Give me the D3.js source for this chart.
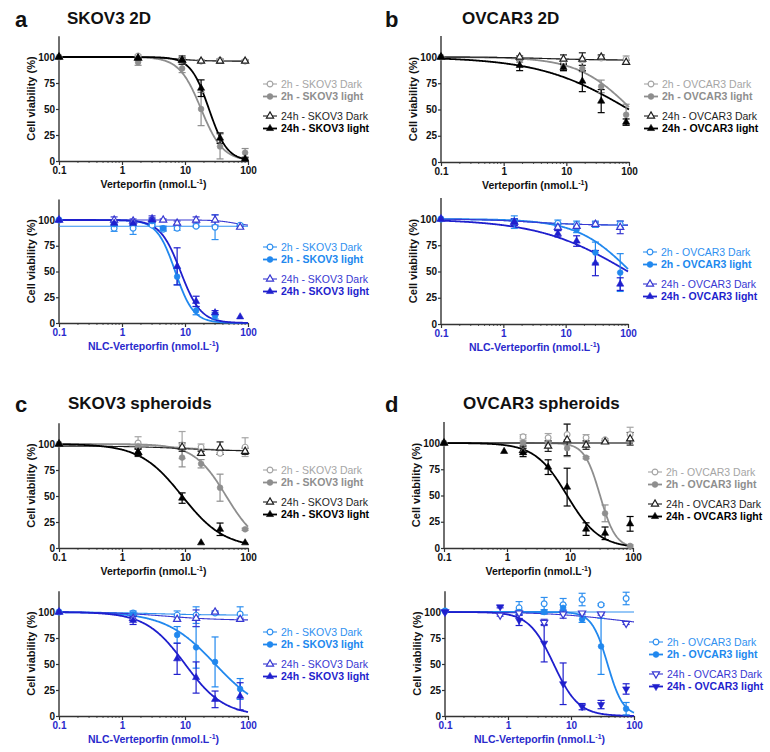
<!DOCTYPE html>
<html><head><meta charset="utf-8">
<script src="https://cdn.jsdelivr.net/npm/d3@7"></script>
<style>body{margin:0;background:#fff} text{font-family:"Liberation Sans",Arial,Helvetica,sans-serif}</style>
</head><body><svg id="c" width="770" height="752"></svg>
<script>
// ---------- tick labels ----------
const xTickValues = [0.1, 1, 10, 100];
const xTickLabels = ["0.1", "1", "10", "100"];
const yTickValues = [0, 25, 50, 75, 100];
const yTickLabels = ["0", "25", "50", "75", "100"];

// ---------- legend labels ----------
const labelsSKOV3 = ["2h - SKOV3 Dark", "2h - SKOV3 light", "24h - SKOV3 Dark", "24h - SKOV3 light"];
const labelsOVCAR3 = ["2h - OVCAR3 Dark", "2h - OVCAR3 light", "24h - OVCAR3 Dark", "24h - OVCAR3 light"];

// ---------- panel a top: SKOV3 2D, Verteporfin ----------
const aT_x = [0.1, 1.8, 9, 18, 36, 90];
const aT_d2 = [100, 101, 97, 96, 97, 96];   const aT_d2e = [0, 1, 2, 1, 1, 1];
const aT_l2 = [100, 95, 89, 50, 14, 8];     const aT_l2e = [0, 3, 4, 16, 12, 4];
const aT_d24 = [100, 99, 97, 96, 96, 96];   const aT_d24e = [0, 1, 4, 1, 2, 1];
const aT_l24 = [100, 99, 97, 70, 22, 2];    const aT_l24e = [0, 1, 2, 8, 5, 1];
const aT_fit = [[100, 96, 6, 2], [100, 0, 18, 2.5], [100, 96, 8, 2], [100, 0, 24, 3]];

// ---------- panel a bottom: SKOV3 2D, NLC-Verteporfin ----------
const aB_x = [0.1, 0.75, 1.5, 3, 4.5, 7.5, 15, 30, 75];
const aB_d2 = [100, 92, 92, 95, 91, 92, 94, 93, 95];     const aB_d2e = [0, 3, 6, 1, 2, 2, 1, 12, 1];
const aB_l2 = [100, 96, 97, 99, 92, 45, 12, 7, null];    const aB_l2e = [0, 2, 2, 2, 2, 8, 4, 3, 0];
const aB_d24 = [100, 100, 99, 101, 100, 97, 100, 100, 93]; const aB_d24e = [0, 3, 2, 3, 1, 2, 3, 5, 1];
const aB_l24 = [100, 97, 97, 100, null, 55, 21, 10, 6];  const aB_l24e = [0, 2, 2, 2, 0, 18, 5, 2, 0];
const aB_fit = [[94, 94, 1, 1], [100, 0, 7, 3], [100, 94, 60, 3], [100, 0, 8.5, 2.7]];

// ---------- panel b top: OVCAR3 2D, Verteporfin ----------
const bT_x = [0.1, 1.8, 9, 18, 36, 90];
const bT_d2 = [100, 99, 96, 97, 99, 98];    const bT_d2e = [0, 1, 2, 2, 2, 3];
const bT_l2 = [100, 97, 91, 89, 72, 45];    const bT_l2e = [0, 2, 4, 3, 6, 10];
const bT_d24 = [100, 100, 98, 98, 100, 95]; const bT_d24e = [0, 1, 4, 6, 2, 2];
const bT_l24 = [100, 92, 90, 77, 58, 38];   const bT_l24e = [0, 5, 3, 10, 11, 3];
const bT_fit = [[100, 97, 5, 1], [100, 0, 110, 1], [100, 97, 5, 1], [100, 0, 100, 0.6]];

// ---------- panel b bottom: OVCAR3 2D, NLC-Verteporfin ----------
const bB_x = [0.1, 1.5, 7.5, 15, 30, 75];
const bB_d2 = [100, 97, 96, 95, 95, 95];    const bB_d2e = [0, 6, 3, 3, 3, 3];
const bB_l2 = [100, 98, 93, 90, 68, 49];    const bB_l2e = [0, 2, 3, 3, 10, 18];
const bB_d24 = [100, 97, 92, 93, 95, 92];   const bB_d24e = [0, 3, 3, 2, 2, 6];
const bB_l24 = [100, 97, 86, 79, 58, 38];   const bB_l24e = [0, 3, 3, 5, 12, 6];
const bB_fit = [[100, 94, 3, 1], [100, 0, 110, 1], [100, 94, 3, 1], [100, 0, 100, 0.6]];

// ---------- panel c top: SKOV3 spheroids, Verteporfin ----------
const cT_x = [0.1, 1.8, 9, 18, 36, 90];
const cT_d2 = [100, 101, 99, 97, 91, 97];   const cT_d2e = [0, 6, 13, 3, 1, 9];
const cT_l2 = [100, 98, 87, 81, 58, 18];    const cT_l2e = [0, 2, 9, 4, 13, 1];
const cT_d24 = [100, 92, 97, 91, 96, 93];   const cT_d24e = [0, 4, 4, 2, 6, 3];
const cT_l24 = [100, 92, 48, 5, 18, 5];     const cT_l24e = [0, 3, 5, 0, 6, 0];
const cT_fit = [[100, 93, 10, 1], [100, 0, 45, 1.7], [98, 93, 10, 1], [100, 0, 9, 1.3]];

// ---------- panel c bottom: SKOV3 spheroids, NLC-Verteporfin ----------
const cB_x = [0.1, 1.5, 7.5, 15, 30, 75];
const cB_d2 = [100, 99, 97, 97, 99, 98];    const cB_d2e = [0, 2, 4, 8, 1, 7];
const cB_l2 = [100, 98, 78, 66, 52, 26];    const cB_l2e = [0, 2, 8, 20, 24, 10];
const cB_d24 = [100, 94, 93, 94, 100, 93];  const cB_d24e = [0, 2, 2, 8, 1, 1];
const cB_l24 = [100, 92, 55, 37, 16, 19];   const cB_l24e = [0, 4, 15, 15, 8, 13];
const cB_fit = [[100, 97, 3, 1], [100, 0, 30, 1.1], [100, 92, 5, 1], [100, 0, 10, 1.4]];

// ---------- panel d top: OVCAR3 spheroids, Verteporfin ----------
const dT_x = [0.1, 0.9, 1.8, 4.5, 9, 18, 36, 90];
const dT_d2 = [100, null, 106, 105, 108, 105, 103, 108]; const dT_d2e = [0, 0, 2, 4, 10, 3, 1, 7];
const dT_l2 = [100, null, 100, 100, 95, 86, 33, 2];      const dT_l2e = [0, 0, 2, 2, 8, 1, 8, 1];
const dT_d24 = [100, null, 93, 97, 103, 98, 101, 104];   const dT_d24e = [0, 0, 4, 5, 15, 4, 1, 6];
const dT_l24 = [100, 92, 91, 77, 58, 18, 14, 23];        const dT_l24e = [0, 0, 4, 7, 18, 6, 6, 7];
const dT_fit = [[100, 100, 1, 1], [100, 0, 30, 3.5], [100, 100, 1, 1], [100, 0, 9, 1.7]];

// ---------- panel d bottom: OVCAR3 spheroids, NLC-Verteporfin ----------
const dB_x = [0.1, 0.75, 1.5, 3.75, 7.5, 15, 30, 75];
const dB_d2 = [101, null, 104, 108, 107, 112, 107, 113]; const dB_d2e = [0, 0, 6, 6, 6, 6, 1, 6];
const dB_l2 = [101, null, 100, 100, 104, 93, 67, 7];     const dB_l2e = [0, 0, 2, 2, 3, 3, 27, 6];
const dB_d24 = [100, 97, 99, 90, 98, 99, 98, 89];        const dB_d24e = [0, 1, 2, 3, 4, 1, 1, 1];
const dB_l24 = [100, 105, 92, 70, 31, 9, 11, 26];        const dB_l24e = [0, 1, 5, 18, 20, 3, 4, 5];
const dB_fit = [[100, 100, 1, 1], [100, 0, 38, 3.5], [100, 85, 50, 0.8], [100, 0, 5.3, 2.2]];

// ---------- styles ----------
const grayColors = ["#a5a5a5", "#8e8e8e", "#1e1e1e", "#000000"];
const blueColors = ["#2f90f0", "#2188ee", "#3838d2", "#1f1fcd"];
const axisBlue = "#2a2acc";

const svg = d3.select("#c");

const panels = [
  {x: aT_x, m: [aT_d2, aT_l2, aT_d24, aT_l24], e: [aT_d2e, aT_l2e, aT_d24e, aT_l24e], fit: aT_fit, labels: labelsSKOV3,
   x0: 59, x1: 248, y0: 161, y100: 57, ly: 84, theme: "gray"},
  {x: aB_x, m: [aB_d2, aB_l2, aB_d24, aB_l24], e: [aB_d2e, aB_l2e, aB_d24e, aB_l24e], fit: aB_fit, labels: labelsSKOV3,
   x0: 59, x1: 248, y0: 323, y100: 220, ly: 247, theme: "blue"},
  {x: bT_x, m: [bT_d2, bT_l2, bT_d24, bT_l24], e: [bT_d2e, bT_l2e, bT_d24e, bT_l24e], fit: bT_fit, labels: labelsOVCAR3,
   x0: 441, x1: 629, y0: 162, y100: 57, ly: 84, theme: "gray"},
  {x: bB_x, m: [bB_d2, bB_l2, bB_d24, bB_l24], e: [bB_d2e, bB_l2e, bB_d24e, bB_l24e], fit: bB_fit, labels: labelsOVCAR3,
   x0: 441, x1: 628, y0: 324, y100: 219, ly: 252, theme: "blue"},
  {x: cT_x, m: [cT_d2, cT_l2, cT_d24, cT_l24], e: [cT_d2e, cT_l2e, cT_d24e, cT_l24e], fit: cT_fit, labels: labelsSKOV3,
   x0: 59, x1: 248, y0: 548, y100: 444, ly: 470, theme: "gray"},
  {x: cB_x, m: [cB_d2, cB_l2, cB_d24, cB_l24], e: [cB_d2e, cB_l2e, cB_d24e, cB_l24e], fit: cB_fit, labels: labelsSKOV3,
   x0: 59, x1: 248, y0: 716, y100: 612, ly: 632, theme: "blue"},
  {x: dT_x, m: [dT_d2, dT_l2, dT_d24, dT_l24], e: [dT_d2e, dT_l2e, dT_d24e, dT_l24e], fit: dT_fit, labels: labelsOVCAR3,
   x0: 444, x1: 633, y0: 548, y100: 443, ly: 472, theme: "gray"},
  {x: dB_x, m: [dB_d2, dB_l2, dB_d24, dB_l24], e: [dB_d2e, dB_l2e, dB_d24e, dB_l24e], fit: dB_fit, labels: labelsOVCAR3,
   x0: 445, x1: 634, y0: 716, y100: 612, ly: 642, theme: "blue", down: true}
];

function markerPath(kind) {
  if (kind === "circle") return d3.symbol().type(d3.symbolCircle).size(26)();
  return d3.symbol().type(d3.symbolTriangle).size(22)();
}

function drawMarker(g, cx, cy, idx, color, down) {
  const open = (idx === 0 || idx === 2);
  const kind = idx < 2 ? "circle" : "tri";
  const rot = (kind === "tri" && down) ? " rotate(180)" : "";
  g.append("path").attr("d", markerPath(kind))
    .attr("transform", `translate(${cx},${cy})${rot}`)
    .attr("fill", open ? "#fff" : color)
    .attr("stroke", color).attr("stroke-width", open ? 1.2 : 0.6);
}

function logistic(p, x) {
  return p[1] + (p[0] - p[1]) / (1 + Math.pow(x / p[2], p[3]));
}

panels.forEach(P => {
  const g = svg.append("g");
  const xs = d3.scaleLog().domain([0.1, 100]).range([P.x0, P.x1]);
  const ys = d3.scaleLinear().domain([0, 100]).range([P.y0, P.y100]);
  const colors = P.theme === "gray" ? grayColors : blueColors;
  const tickColor = P.theme === "gray" ? "#111" : axisBlue;

  // axes
  const xAxis = d3.axisBottom(xs).tickValues(xTickValues).tickFormat((d, i) => xTickLabels[i]).tickSize(4).tickSizeOuter(0);
  const gx = g.append("g").attr("transform", `translate(0,${P.y0})`).call(xAxis);
  gx.select(".domain").attr("stroke", "#333").attr("stroke-width", 1.4);
  gx.selectAll(".tick line").attr("stroke", "#333").attr("stroke-width", 1.2);
  gx.selectAll(".tick text").attr("font-size", 10).attr("font-weight", "bold").attr("fill", tickColor).attr("dy", "0.62em")
    .attr("font-family", '"Liberation Sans",Arial,sans-serif');
  // minor ticks
  const minor = [];
  [0.1, 1, 10].forEach(dec => { for (let k = 2; k <= 9; k++) minor.push(dec * k); });
  g.selectAll(null).data(minor).enter().append("line")
    .attr("x1", d => xs(d)).attr("x2", d => xs(d)).attr("y1", P.y0).attr("y2", P.y0 + 2)
    .attr("stroke", "#333").attr("stroke-width", 0.8);

  const yAxis = d3.axisLeft(ys).tickValues(yTickValues).tickFormat((d, i) => yTickLabels[i]).tickSize(3).tickSizeOuter(0);
  const gy = g.append("g").attr("transform", `translate(${P.x0},0)`).call(yAxis);
  gy.select(".domain").remove();
  g.append("line").attr("x1", P.x0).attr("x2", P.x0).attr("y1", P.y0 + 0.7).attr("y2", ys(120))
    .attr("stroke", "#333").attr("stroke-width", 1.4);
  gy.selectAll(".tick line").attr("stroke", "#333").attr("stroke-width", 1.2);
  gy.selectAll(".tick text").attr("font-size", 10).attr("font-weight", "bold").attr("fill", "#111").attr("x", -4)
    .attr("font-family", '"Liberation Sans",Arial,sans-serif');

  // axis titles
  g.append("text").attr("transform", `translate(${P.x0 - 24},${(P.y0 + ys(120)) / 2}) rotate(-90)`)
    .attr("text-anchor", "middle").attr("font-size", 11).attr("font-weight", "bold").attr("fill", "#111")
    .text("Cell viability (%)");
  const xt = g.append("text").attr("x", (P.x0 + P.x1) / 2).attr("y", P.y0 + 27)
    .attr("text-anchor", "middle").attr("font-size", 10.5).attr("font-weight", "bold")
    .attr("fill", P.theme === "gray" ? "#111" : axisBlue);
  xt.append("tspan").text(P.theme === "gray" ? "Verteporfin (nmol.L" : "NLC-Verteporfin (nmol.L");
  xt.append("tspan").attr("dy", -4).attr("font-size", 7).text("-1");
  xt.append("tspan").attr("dy", 4).text(")");

  // fitted curves
  const line = d3.line().x(d => xs(d[0])).y(d => ys(d[1]));
  const grid = d3.range(0, 301).map(i => 0.1 * Math.pow(1000, i / 300));
  P.fit.forEach((p, i) => {
    const pts = grid.map(x => [x, logistic(p, x)]);
    g.append("path").attr("d", line(pts)).attr("fill", "none")
      .attr("stroke", colors[i]).attr("stroke-width", (i % 2 === 1) ? 1.8 : 1.1);
  });

  // error bars
  [0, 1, 2, 3].forEach(i => {
    P.m[i].forEach((v, j) => {
      const e = P.e[i][j];
      if (v == null || !e) return;
      const cx = xs(P.x[j]);
      g.append("line").attr("x1", cx).attr("x2", cx).attr("y1", ys(v - e)).attr("y2", ys(v + e))
        .attr("stroke", colors[i]).attr("stroke-width", 1.2);
      [v - e, v + e].forEach(w => g.append("line").attr("x1", cx - 3.5).attr("x2", cx + 3.5)
        .attr("y1", ys(w)).attr("y2", ys(w)).attr("stroke", colors[i]).attr("stroke-width", 1.2));
    });
  });
  // markers
  [0, 1, 2, 3].forEach(i => {
    P.m[i].forEach((v, j) => {
      if (v == null) return;
      drawMarker(g, xs(P.x[j]), ys(v), i, colors[i], P.down);
    });
  });

  // legend
  const lx = P.x1 + 22;
  const offs = [0, 12.5, 32, 44.5];
  P.labels.forEach((lab, i) => {
    const yy = P.ly + offs[i];
    g.append("line").attr("x1", lx - 7).attr("x2", lx + 7).attr("y1", yy).attr("y2", yy)
      .attr("stroke", colors[i]).attr("stroke-width", (i % 2 === 1) ? 1.8 : 1.1);
    drawMarker(g, lx, yy, i, colors[i], P.down);
    g.append("text").attr("x", lx + 11).attr("y", yy).attr("dy", "0.36em")
      .attr("font-size", 10.5).attr("font-weight", (i % 2 === 1) ? "bold" : "normal")
      .attr("fill", colors[i]).text(lab);
  });
});

// panel letters and titles
const panelLetters = ["a", "b", "c", "d"];
const panelTitles = ["SKOV3 2D", "OVCAR3 2D", "SKOV3 spheroids", "OVCAR3 spheroids"];
const letterPos = [[15, 27], [385, 27], [15, 412], [385, 412]];
const titlePos = [[67, 24], [462, 24], [68, 409], [463, 409]];
panelLetters.forEach((l, i) => {
  svg.append("text").attr("x", letterPos[i][0]).attr("y", letterPos[i][1])
    .attr("font-size", 22).attr("font-weight", "bold").attr("fill", "#111").text(l);
  svg.append("text").attr("x", titlePos[i][0]).attr("y", titlePos[i][1])
    .attr("font-size", 17).attr("font-weight", "bold").attr("fill", "#111").text(panelTitles[i]);
});
</script></body></html>
